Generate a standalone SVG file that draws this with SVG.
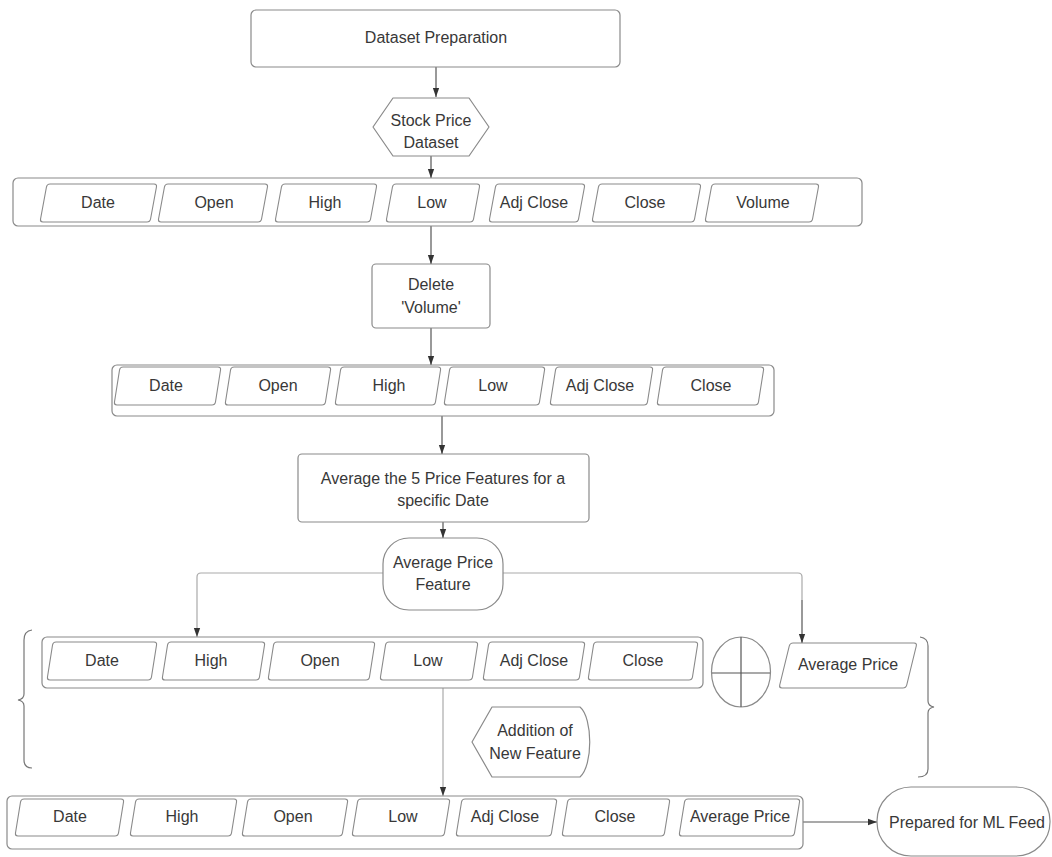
<svg xmlns="http://www.w3.org/2000/svg" width="1052" height="857" viewBox="0 0 1052 857">
<defs>
<style>
.box{fill:#fff;stroke:#8a8a8a;stroke-width:1.2}
.cell{fill:#fff;stroke:#8a8a8a;stroke-width:1.1}
.t{font-family:"Liberation Sans",Arial,sans-serif;font-size:16px;fill:#383838;text-anchor:middle;dominant-baseline:central}
.c{fill:none;stroke:#555;stroke-width:1.2}
.cl{fill:none;stroke:#aaa;stroke-width:1.2}
.br{fill:none;stroke:#777;stroke-width:1.2}
</style>
<marker id="ah" viewBox="0 0 10 10" refX="10" refY="5" markerWidth="9" markerHeight="9" markerUnits="userSpaceOnUse" orient="auto"><path d="M0,1.5 L10,5 L0,8.5 z" fill="#333"/></marker>
</defs>
<rect width="1052" height="857" fill="#fff"/>

<g id="connectors">
<line class="c" x1="436" y1="67" x2="436" y2="97" marker-end="url(#ah)"/>
<line class="c" x1="431" y1="156" x2="431" y2="178" marker-end="url(#ah)"/>
<line class="c" x1="431" y1="226" x2="431" y2="264" marker-end="url(#ah)"/>
<line class="c" x1="431" y1="328" x2="431" y2="365" marker-end="url(#ah)"/>
<line class="c" x1="442" y1="416" x2="442" y2="454" marker-end="url(#ah)"/>
<line class="c" x1="443" y1="522" x2="443" y2="538" marker-end="url(#ah)"/>
<path class="cl" d="M383,573 L201,573 Q197,573 197,577 L197,637" marker-end="url(#ah)"/>
<path class="cl" d="M503,573 L798,573 Q802,573 802,577 L802,600"/>
<line class="c" x1="802" y1="600" x2="802" y2="643" marker-end="url(#ah)"/>
<line class="cl" x1="443" y1="680" x2="443" y2="796" marker-end="url(#ah)"/>
<line class="c" x1="803" y1="822" x2="877" y2="822" marker-end="url(#ah)"/>
</g>

<g id="dataset-preparation">
<rect class="box" x="251" y="10" width="369" height="57" rx="5"/>
<text class="t" x="436" y="37">Dataset Preparation</text>
</g>

<g id="stock-price-dataset">
<polygon class="box" points="373,127 393,98 469,98 489,127 469,156 393,156" stroke-linejoin="round"/>
<text class="t" x="431" y="120">Stock Price</text>
<text class="t" x="431" y="142">Dataset</text>
</g>

<g id="row1">
<rect class="box" x="13" y="178" width="849" height="48" rx="5"/>
<g transform="translate(0,222)">
<rect class="cell" x="0" y="-38" width="110" height="38" rx="3" transform="translate(40,0) skewX(-10.44)"/>
<rect class="cell" x="0" y="-38" width="103" height="38" rx="3" transform="translate(158,0) skewX(-10.44)"/>
<rect class="cell" x="0" y="-38" width="95" height="38" rx="3" transform="translate(275,0) skewX(-10.44)"/>
<rect class="cell" x="0" y="-38" width="87" height="38" rx="3" transform="translate(386,0) skewX(-10.44)"/>
<rect class="cell" x="0" y="-38" width="89" height="38" rx="3" transform="translate(489,0) skewX(-10.44)"/>
<rect class="cell" x="0" y="-38" width="102" height="38" rx="3" transform="translate(592,0) skewX(-10.44)"/>
<rect class="cell" x="0" y="-38" width="107" height="38" rx="3" transform="translate(705,0) skewX(-10.44)"/>
</g>
<text class="t" x="98" y="202">Date</text>
<text class="t" x="214" y="202">Open</text>
<text class="t" x="325" y="202">High</text>
<text class="t" x="432" y="202">Low</text>
<text class="t" x="534" y="202">Adj Close</text>
<text class="t" x="645" y="202">Close</text>
<text class="t" x="763" y="202">Volume</text>
</g>

<g id="delete-volume">
<rect class="box" x="372" y="264" width="118" height="64" rx="4"/>
<text class="t" x="431" y="284">Delete</text>
<text class="t" x="431" y="307">'Volume'</text>
</g>

<g id="row2">
<rect class="box" x="112" y="365" width="662" height="51" rx="5"/>
<g transform="translate(0,405)">
<rect class="cell" x="0" y="-38" width="101" height="38" rx="3" transform="translate(114,0) skewX(-8.98)"/>
<rect class="cell" x="0" y="-38" width="100" height="38" rx="3" transform="translate(225,0) skewX(-8.98)"/>
<rect class="cell" x="0" y="-38" width="100" height="38" rx="3" transform="translate(335,0) skewX(-8.98)"/>
<rect class="cell" x="0" y="-38" width="95" height="38" rx="3" transform="translate(444,0) skewX(-8.98)"/>
<rect class="cell" x="0" y="-38" width="97" height="38" rx="3" transform="translate(550,0) skewX(-8.98)"/>
<rect class="cell" x="0" y="-38" width="101" height="38" rx="3" transform="translate(657,0) skewX(-8.98)"/>
</g>
<text class="t" x="166" y="385">Date</text>
<text class="t" x="278" y="385">Open</text>
<text class="t" x="389" y="385">High</text>
<text class="t" x="493" y="385">Low</text>
<text class="t" x="600" y="385">Adj Close</text>
<text class="t" x="711" y="385">Close</text>
</g>

<g id="average-step">
<rect class="box" x="298" y="454" width="291" height="68" rx="4"/>
<text class="t" x="443" y="478">Average the 5 Price Features for a</text>
<text class="t" x="443" y="500">specific Date</text>
</g>

<g id="average-price-feature">
<rect class="box" x="383" y="538" width="120" height="72" rx="26"/>
<text class="t" x="443" y="562">Average Price</text>
<text class="t" x="443" y="584">Feature</text>
</g>

<g id="left-brace">
<path class="br" d="M32,630 Q24,631 24,640 L24,694 Q24,699 18,700 Q24,701 24,706 L24,760 Q24,768 32,768"/>
</g>

<g id="row3">
<rect class="box" x="42" y="637" width="661" height="51" rx="5"/>
<g transform="translate(0,680)">
<rect class="cell" x="0" y="-38" width="104" height="38" rx="3" transform="translate(47,0) skewX(-8.98)"/>
<rect class="cell" x="0" y="-38" width="97" height="38" rx="3" transform="translate(162,0) skewX(-8.98)"/>
<rect class="cell" x="0" y="-38" width="101" height="38" rx="3" transform="translate(268,0) skewX(-8.98)"/>
<rect class="cell" x="0" y="-38" width="92" height="38" rx="3" transform="translate(380,0) skewX(-8.98)"/>
<rect class="cell" x="0" y="-38" width="96" height="38" rx="3" transform="translate(483,0) skewX(-8.98)"/>
<rect class="cell" x="0" y="-38" width="104" height="38" rx="3" transform="translate(588,0) skewX(-8.98)"/>
</g>
<text class="t" x="102" y="660">Date</text>
<text class="t" x="211" y="660">High</text>
<text class="t" x="320" y="660">Open</text>
<text class="t" x="428" y="660">Low</text>
<text class="t" x="534" y="660">Adj Close</text>
<text class="t" x="643" y="660">Close</text>
</g>

<g id="or-symbol">
<ellipse class="box" cx="741" cy="672" rx="29.5" ry="35"/>
<line x1="741" y1="637" x2="741" y2="707" stroke="#555" stroke-width="1.2"/>
<line x1="712" y1="673" x2="770" y2="673" stroke="#555" stroke-width="1.2"/>
</g>

<g id="average-price-cell">
<rect class="cell" x="0" y="-45" width="127" height="45" rx="3" transform="translate(779,688) skewX(-13.74)"/>
<text class="t" x="848" y="664">Average Price</text>
</g>

<g id="right-brace">
<path class="br" d="M920,637 Q928,638 928,646 L928,701 Q928,706 934,707 Q928,708 928,713 L928,769 Q928,777 918,777"/>
</g>

<g id="addition-of-new-feature">
<path class="box" d="M472,742 L492,707 L580,707 C593,718 593,766 580,777 L492,777 Z" stroke-linejoin="round"/>
<text class="t" x="535" y="730">Addition of</text>
<text class="t" x="535" y="753">New Feature</text>
</g>

<g id="row4">
<rect class="box" x="7" y="796" width="796" height="53" rx="5"/>
<g transform="translate(0,836)">
<rect class="cell" x="0" y="-37" width="103" height="37" rx="3" transform="translate(15,0) skewX(-9.21)"/>
<rect class="cell" x="0" y="-37" width="101" height="37" rx="3" transform="translate(130,0) skewX(-9.21)"/>
<rect class="cell" x="0" y="-37" width="100" height="37" rx="3" transform="translate(242,0) skewX(-9.21)"/>
<rect class="cell" x="0" y="-37" width="92" height="37" rx="3" transform="translate(352,0) skewX(-9.21)"/>
<rect class="cell" x="0" y="-37" width="95" height="37" rx="3" transform="translate(456,0) skewX(-9.21)"/>
<rect class="cell" x="0" y="-37" width="102" height="37" rx="3" transform="translate(562,0) skewX(-9.21)"/>
<rect class="cell" x="0" y="-37" width="115" height="37" rx="3" transform="translate(679,0) skewX(-9.21)"/>
</g>
<text class="t" x="70" y="816">Date</text>
<text class="t" x="182" y="816">High</text>
<text class="t" x="293" y="816">Open</text>
<text class="t" x="403" y="816">Low</text>
<text class="t" x="505" y="816">Adj Close</text>
<text class="t" x="615" y="816">Close</text>
<text class="t" x="740" y="816">Average Price</text>
</g>

<g id="prepared-for-ml-feed">
<rect class="box" x="877" y="787" width="173" height="69" rx="34"/>
<text class="t" x="967" y="822">Prepared for ML Feed</text>
</g>
</svg>
